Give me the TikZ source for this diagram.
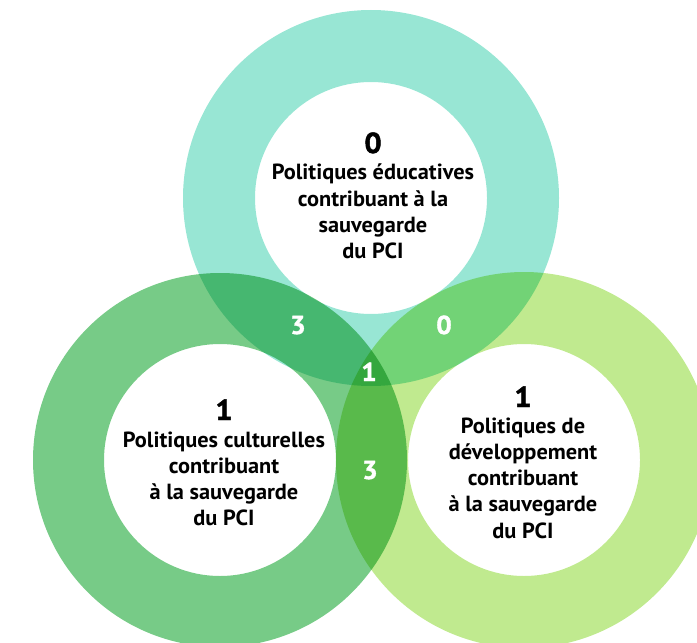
\documentclass[tikz,border=0pt]{standalone}
\usepackage{fontspec}
\newfontfamily\labfont{PT Sans}[FakeStretch=1.02]
\newfontfamily\numfont{PT Sans}[FakeStretch=1.05,FakeBold=1.5]
\definecolor{ringA}{HTML}{98E6D4}
\definecolor{ringB}{HTML}{77CB87}
\definecolor{ringC}{HTML}{C0EA8F}
\tikzset{
  ring/.style={blend mode=multiply, even odd rule},
  lab/.style={font=\labfont\bfseries\fontsize{22}{26.4}\selectfont, inner sep=0pt, anchor=base},
  bignum/.style={font=\numfont\bfseries\fontsize{29}{32}\selectfont, inner sep=0pt, anchor=base},
  wnum/.style={font=\numfont\bfseries\fontsize{26}{30}\selectfont, text=white, inner sep=0pt, anchor=base}
}
\begin{document}
\begin{tikzpicture}[x=1bp,y=-1bp]
\useasboundingbox (0,0) rectangle (697,643);
\clip (0,0) rectangle (697,643);
\coordinate (ca) at (371,198);
\coordinate (cb) at (220,460);
\coordinate (cc) at (524,460);
\fill[ringA, ring] (ca) circle[radius=188] (ca) circle[radius=116];
\fill[ringB, ring] (cb) circle[radius=187] (cb) circle[radius=116];
\fill[ringC, ring] (cc) circle[radius=188] (cc) circle[radius=116];
% top
\node[bignum] (na) at (373,153) {0};
\node[lab] (ta) at (373,180) {\begin{tabular}[t]{@{}c@{}}Politiques éducatives\\contribuant à la\\sauvegarde\\du PCI\end{tabular}};
% left
\node[bignum] (nb) at (224,420) {1};
\node[lab] (tb) at (224,447) {\begin{tabular}[t]{@{}c@{}}Politiques culturelles\\contribuant\\à la sauvegarde\\du PCI\end{tabular}};
% right
\node[bignum] (nc) at (523,407) {1};
\node[lab] (tc) at (523,433) {\begin{tabular}[t]{@{}c@{}}Politiques de\\développement\\contribuant\\à la sauvegarde\\du PCI\end{tabular}};
% overlaps
\node[wnum] (nab) at (298,334) {3};
\node[wnum] (nac) at (444,334) {0};
\node[wnum] (nabc) at (369,381) {1};
\node[wnum] (nbc) at (370,479) {3};
\end{tikzpicture}
\end{document}
